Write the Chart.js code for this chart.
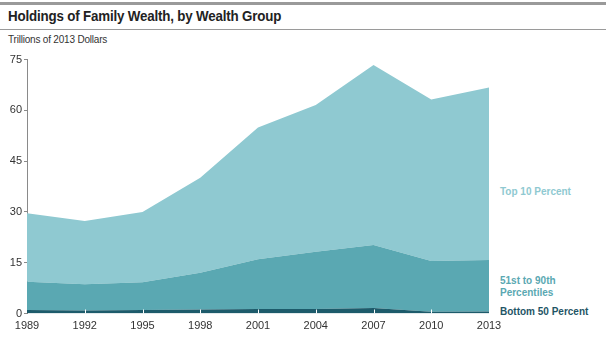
<!DOCTYPE html>
<html lang="en">
<head>
  <meta charset="UTF-8" />
  <title>Holdings of Family Wealth</title>
  <script src="https://cdn.jsdelivr.net/npm/chart.js"></script>
  <style>
    body {
      margin: 0;
      width: 606px;
      height: 343px;
      position: relative;
      background: #fff;
      font-family: "Liberation Sans", Arial, sans-serif;
      overflow: hidden;
    }
    .topRule {
      position: absolute; left: 0; top: 2px; width: 606px; height: 3px; background: #9a9a9a;
    }
    .titleRule {
      position: absolute; left: 0; top: 29px; width: 606px; height: 1px; background: #9a9a9a;
    }
    h1 {
      position: absolute; left: 8px; top: 7px; margin: 0;
      font-size: 15px; font-weight: bold; color: #222; letter-spacing: -0.2px;
      transform: scaleX(0.89); transform-origin: left center; white-space: nowrap;
    }
    .sub {
      position: absolute; left: 8px; top: 34px;
      font-size: 10px; color: #333; letter-spacing: -0.2px;
    }
    .lbl {
      position: absolute; left: 500px; font-size: 10px; font-weight: bold; line-height: 12px;
    }
    #wrap { position: absolute; left: 0; top: 50px; width: 606px; height: 293px; }
  </style>
</head>
<body>
  <div class="topRule"></div>
  <h1>Holdings of Family Wealth, by Wealth Group</h1>
  <div class="titleRule"></div>
  <div class="sub">Trillions of 2013 Dollars</div>
  <div class="lbl" style="top:186px;color:#8fc9d1">Top 10 Percent</div>
  <div class="lbl" style="top:275px;color:#5aa8b2">51st to 90th<br>Percentiles</div>
  <div class="lbl" style="top:306px;color:#1f5566">Bottom 50 Percent</div>
  <div id="wrap"><canvas id="chart"></canvas></div>
  <script>
    const years = ["1989", "1992", "1995", "1998", "2001", "2004", "2007", "2010", "2013"];
    const yTicks = [0, 15, 30, 45, 60, 75];
    // trillions held by each group (not cumulative)
    const bottom50 = [1.0, 0.9, 1.0, 1.2, 1.3, 1.3, 1.6, 0.5, 0.6];
    const pct51to90 = [8.4, 7.7, 8.2, 10.8, 14.7, 16.9, 18.6, 15.0, 15.2];
    const top10 = [20.2, 18.7, 20.8, 28.1, 38.9, 43.4, 53.2, 47.7, 50.9];

    const xTickMarks = {
      id: "xTickMarks",
      afterDatasetsDraw(chart) {
        const { ctx, scales: { x, y } } = chart;
        ctx.save();
        ctx.strokeStyle = "#ffffff";
        ctx.lineWidth = 1;
        years.forEach((yr, i) => {
          if (i === 0 || i === years.length - 1) return;
          const px = Math.round(x.getPixelForValue(i)) + 0.5;
          ctx.beginPath();
          ctx.moveTo(px, y.bottom);
          ctx.lineTo(px, y.bottom - 4);
          ctx.stroke();
        });
        ctx.restore();
      }
    };

    new Chart(document.getElementById("chart"), {
      type: "line",
      data: {
        labels: years,
        datasets: [
          { label: "Bottom 50 Percent", data: bottom50, backgroundColor: "#1d5b6b", fill: "origin" },
          { label: "51st to 90th Percentiles", data: pct51to90, backgroundColor: "#5aa8b2", fill: "-1" },
          { label: "Top 10 Percent", data: top10, backgroundColor: "#8fc9d1", fill: "-1" }
        ].map(d => ({ ...d, borderWidth: 0, pointRadius: 0, tension: 0 }))
      },
      options: {
        responsive: true,
        maintainAspectRatio: false,
        animation: false,
        layout: { padding: { top: 9.5, right: 117, left: 0, bottom: 0 } },
        plugins: { legend: { display: false }, tooltip: { enabled: false } },
        scales: {
          x: {
            offset: false,
            grid: { display: false, drawTicks: false },
            border: { display: false },
            ticks: { color: "#333", font: { size: 11, family: "Liberation Sans" }, padding: 6, maxRotation: 0, autoSkip: false },
            afterFit(scale) { scale.height = 29.5; }
          },
          y: {
            stacked: true,
            min: 0,
            max: 75,
            afterBuildTicks(scale) { scale.ticks = yTicks.map(v => ({ value: v })); },
            grid: { drawOnChartArea: false, drawTicks: true, tickLength: 3, color: "#8a8a8a" },
            border: { display: true, color: "#8a8a8a", width: 1 },
            ticks: { color: "#333", font: { size: 11, family: "Liberation Sans" }, padding: 2 },
            afterFit(scale) { scale.width = 27; }
          }
        }
      },
      plugins: [xTickMarks]
    });
  </script>
</body>
</html>
